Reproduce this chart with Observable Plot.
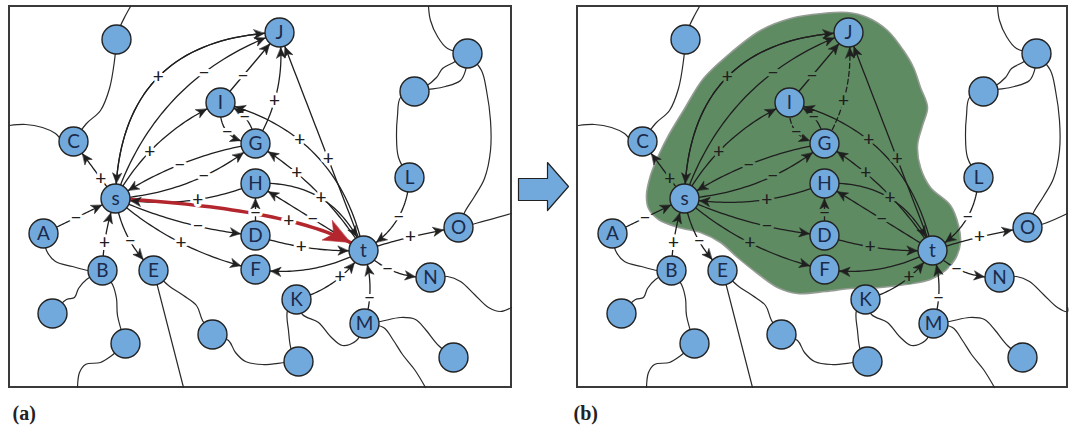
<!DOCTYPE html>
<html><head><meta charset="utf-8">
<script src="https://cdn.jsdelivr.net/npm/d3@7"></script>
<script src="https://cdn.jsdelivr.net/npm/@observablehq/plot@0.6"></script>
<style>
html,body{margin:0;padding:0;background:#fff;}
#chart svg{display:block;}
</style></head><body><div id="chart"></div>
<script>
// ---------- data (panel-local coordinates of panel (a)) ----------
const nodeIds    = ["s","A","B","C","D","E","F","G","H","I","J","K","L","M","N","O","t","u1","u2","u3","u4","u5","u6","u7","u8"];
const nodeLabels = ["s","A","B","C","D","E","F","G","H","I","J","K","L","M","N","O","t","","","","","","","",""];
const nodeX      = [115,43,102,73,255,153,255,255,255,220,279,296,409,364,430,458,363,116,467,414,52,125,212,298,453];
const nodeY      = [198,233,270,141,235,270,269,143,183,102,32,299,177,323,277,227,250,39,53,91,313,343,334,361,357];

// from, to, sign, bend, label position along edge
const edgeList = [
  ["J","s","+",-55,0.5],
  ["s","J","",55,0.5],
  ["s","J","−",28,0.65],
  ["I","J","−",0,0.38],
  ["I","G","−",-14,0.5],
  ["G","I","−",-9,0.5],
  ["G","J","+",-10,0.4],
  ["t","I","+",-32,0.6],
  ["t","J","+",0,0.42],
  ["t","G","+",-9,0.67],
  ["H","t","+",22,0.5],
  ["t","H","−",0,0.47],
  ["D","H","−",0,0.44],
  ["D","t","+",-5,0.43],
  ["t","F","",9,0.5],
  ["K","t","+",-8,0.58],
  ["M","t","−",-6,0.35],
  ["L","t","−",12,0.45],
  ["t","O","+",2,0.5],
  ["t","N","−",-8,0.4],
  ["A","s","−",0,0.45],
  ["B","s","+",3,0.37],
  ["s","E","−",-7,0.55],
  ["s","C","+",0,0.35],
  ["s","I","+",12,0.4],
  ["G","s","−",-8,0.52],
  ["s","G","−",-12,0.6],
  ["H","s","+",10,0.42],
  ["s","D","−",-6,0.6],
  ["s","F","+",-10,0.5]
];
// highlighted net effect in panel (a): from, to, sign, bend, label position, skew
const redEdge = ["s","t","+",14,0.57,0.24];
// edges drawn dashed in panel (b)
const dashedInB = ["G>J","I>G"];

// background network curves
const bgCurves = [
  [[130,6],[125,15],[118,30],[116,39]],
  [[116,39],[114,60],[109,88],[100,110],[86,123],[73,141]],
  [[9,125],[25,124],[42,127],[55,133],[63,141],[73,141]],
  [[43,233],[46,250],[55,261],[72,266],[88,270],[102,270]],
  [[102,270],[86,279],[78,288],[74,297],[66,299],[52,313]],
  [[102,270],[112,284],[116,298],[117,315],[125,343]],
  [[125,343],[110,356],[100,362],[85,364],[79,372],[77,387]],
  [[153,270],[183,387]],
  [[153,270],[168,285],[183,295],[196,305],[202,320],[212,334]],
  [[212,334],[228,340],[235,352],[245,361],[262,364],[285,362],[298,361]],
  [[296,299],[287,310],[288,330],[291,350],[298,361]],
  [[296,299],[302,314],[318,322],[330,336],[342,345],[356,340],[364,323]],
  [[364,323],[380,321],[400,317],[415,319],[425,329],[438,345],[453,357]],
  [[364,323],[383,327],[393,340],[402,354],[414,369],[425,387]],
  [[430,277],[447,276],[460,281],[474,294],[488,307],[500,311],[511,307]],
  [[458,227],[475,223],[511,213]],
  [[458,227],[464,212],[474,196],[484,178],[490,150],[490,120],[486,90],[481,70],[467,53]],
  [[428,6],[430,20],[437,36],[447,48],[467,53]],
  [[467,53],[453,62],[442,68],[436,77],[425,86],[414,91]],
  [[467,53],[465,70],[460,80],[445,86],[428,89],[414,91]],
  [[414,91],[400,97],[397,115],[396,135],[398,157],[409,177]]
];

// green region of panel (b)
const blobOutline = [
  [253,13],[278,12],[298,17],[318,30],[334,50],[344,67],[351,87],[358,107],[353,125],[348,145],
  [351,167],[361,187],[381,205],[389,225],[391,242],[386,258],[376,270],[361,279],[336,284],
  [311,287],[281,288],[256,291],[228,293],[208,287],[188,273],[168,257],[151,242],[131,232],
  [109,227],[89,219],[79,208],[77,195],[81,175],[89,155],[99,135],[114,110],[134,78],[158,55],
  [191,30],[221,18]
];
const panelTags = ["(a)","(b)"];

// ---------- layout ----------
const W = 1072, H = 428;
const panels = [
  {x1: 9, x2: 511, y1: 6, y2: 387, dx: 0, tagX: 12},
  {x1: 577, x2: 1067, y1: 6, y2: 387, dx: 569, tagX: 573}
];
const R = 14.5;
const BLUE = "#71a9dc", GREEN = "#5f8b63", INK = "#1f1f1f", RED = "#b3262d";

const pos = {};
nodeIds.forEach((id, i) => pos[id] = [nodeX[i], nodeY[i]]);

function edgeGeom(f, t, bend, skew) {
  const A = pos[f], B = pos[t];
  const dx = B[0]-A[0], dy = B[1]-A[1], len = Math.hypot(dx, dy);
  const ux = dx/len, uy = dy/len, px = uy, py = -ux;
  const C = [(A[0]+B[0])/2 + ux*skew*len + px*2*bend, (A[1]+B[1])/2 + uy*skew*len + py*2*bend];
  return {A, B, C};
}
function bez(g, t) {
  const u = 1-t;
  return [u*u*g.A[0]+2*u*t*g.C[0]+t*t*g.B[0], u*u*g.A[1]+2*u*t*g.C[1]+t*t*g.B[1]];
}
function der(g, t) {
  return [2*(1-t)*(g.C[0]-g.A[0])+2*t*(g.B[0]-g.C[0]), 2*(1-t)*(g.C[1]-g.A[1])+2*t*(g.B[1]-g.C[1])];
}
function headPoly(g, L, Wd, id, dx, out) {
  let lo = 0.3, hi = 1;
  for (let i = 0; i < 40; i++) {
    const m = (lo+hi)/2, q = bez(g, m);
    if (Math.hypot(q[0]-g.B[0], q[1]-g.B[1]) > R+1) lo = m; else hi = m;
  }
  const tip = bez(g, lo), d = der(g, lo), n = Math.hypot(d[0], d[1]);
  const ux = d[0]/n, uy = d[1]/n, nx = -uy, ny = ux;
  const pts = [
    tip,
    [tip[0]-ux*L+nx*Wd/2, tip[1]-uy*L+ny*Wd/2],
    [tip[0]-ux*L*0.72, tip[1]-uy*L*0.72],
    [tip[0]-ux*L-nx*Wd/2, tip[1]-uy*L-ny*Wd/2]
  ];
  pts.forEach(([x, y]) => out.push({id, x: x+dx, y}));
}

const bg = [], blob = [], solid = [], dashed = [], heads = [], redLine = [], redHead = [];
const labW = [], labG = [], nodes = [];

panels.forEach((p, k) => {
  const dx = p.dx;
  bgCurves.forEach((c, i) => c.forEach(([x, y]) => bg.push({id: `${k}-${i}`, x: Math.min(x+dx, p.x2), y})));
  if (k === 1) blobOutline.forEach(([x, y]) => blob.push({x: x+dx, y}));
  edgeList.forEach((e, i) => {
    const [f, t, sign, bend, lt] = e;
    const g = edgeGeom(f, t, bend, 0);
    const target = (k === 1 && dashedInB.includes(f+">"+t)) ? dashed : solid;
    for (let j = 0; j <= 40; j++) { const q = bez(g, j/40); target.push({id: `${k}-${i}`, x: q[0]+dx, y: q[1]}); }
    headPoly(g, 10, 9, `${k}-${i}`, dx, heads);
    if (sign) {
      const q = bez(g, lt);
      const inside = k === 1 && d3.polygonContains(blobOutline, q);
      (inside ? labG : labW).push({x: q[0]+dx, y: q[1], text: sign});
    }
  });
  if (k === 0) {
    const [f, t, sign, bend, lt, skew] = redEdge;
    const g = edgeGeom(f, t, bend, skew);
    for (let j = 0; j <= 40; j++) { const q = bez(g, j/40); redLine.push({x: q[0]+dx, y: q[1]}); }
    headPoly(g, 26, 22, "red", dx, redHead);
    const q = bez(g, lt);
    labW.push({x: q[0]+dx, y: q[1], text: sign});
  }
  nodeIds.forEach((id, i) => nodes.push({x: nodeX[i]+dx, y: nodeY[i], label: nodeLabels[i]}));
});

// block arrow between panels
const cx = (panels[0].x2 + panels[1].x1)/2, cy = 186;
const blockArrow = [[-26,-8],[3,-8],[3,-24],[24,0],[3,24],[3,14],[-26,14]].map(([x, y]) => ({x: cx+x, y: cy+y}));

const tags = panels.map((p, i) => ({x: p.tagX, y: 413, text: panelTags[i]}));

const signFont = {fontFamily: "Lato, 'DejaVu Sans', sans-serif", fontSize: 19, fontWeight: 500};

const chart = Plot.plot({
  width: W, height: H, margin: 0,
  x: {domain: [0, W], range: [0, W], axis: null},
  y: {domain: [0, H], range: [0, H], axis: null},
  style: {background: "white"},
  marks: [
    Plot.rect(panels, {x1: "x1", x2: "x2", y1: "y1", y2: "y2", fill: "white", stroke: "#3a3a3a", strokeWidth: 2}),
    Plot.line(bg, {x: "x", y: "y", z: "id", curve: "catmull-rom", stroke: "#2a2a2a", strokeWidth: 1.2}),
    Plot.line(blob, {x: "x", y: "y", curve: "catmull-rom-closed", fill: GREEN, stroke: "#949c94", strokeWidth: 1.6}),
    Plot.line(solid, {x: "x", y: "y", z: "id", stroke: INK, strokeWidth: 1.3}),
    Plot.line(dashed, {x: "x", y: "y", z: "id", stroke: INK, strokeWidth: 1.3, strokeDasharray: "5,3"}),
    Plot.line(redLine, {x: "x", y: "y", stroke: RED, strokeWidth: 3.5}),
    Plot.dot(nodes, {x: "x", y: "y", r: R, fill: BLUE, stroke: "#222", strokeWidth: 1.4}),
    Plot.line(heads, {x: "x", y: "y", z: "id", curve: "linear-closed", fill: INK, stroke: INK, strokeWidth: 0.6}),
    Plot.line(redHead, {x: "x", y: "y", z: "id", curve: "linear-closed", fill: RED, stroke: RED, strokeWidth: 0.6}),
    Plot.text(labW, {x: "x", y: "y", text: "text", ...signFont, fill: "white", stroke: "white", strokeWidth: 6}),
    Plot.text(labG, {x: "x", y: "y", text: "text", ...signFont, fill: GREEN, stroke: GREEN, strokeWidth: 6}),
    Plot.text(labW.concat(labG), {x: "x", y: "y", text: "text", ...signFont, fill: INK}),
    Plot.text(nodes.filter(d => d.label), {x: "x", y: "y", text: "label", fontFamily: "Lato, 'Open Sans', sans-serif", fontSize: 19, fill: "#1c2a4a"}),
    Plot.line(blockArrow, {x: "x", y: "y", curve: "linear-closed", fill: BLUE, stroke: "#222", strokeWidth: 1.2}),
    Plot.text(tags, {x: "x", y: "y", text: "text", textAnchor: "start", fontFamily: "'Liberation Serif', 'DejaVu Serif', serif", fontWeight: "bold", fontSize: 20, fill: "#222"})
  ]
});
document.getElementById("chart").appendChild(chart);
</script></body></html>
